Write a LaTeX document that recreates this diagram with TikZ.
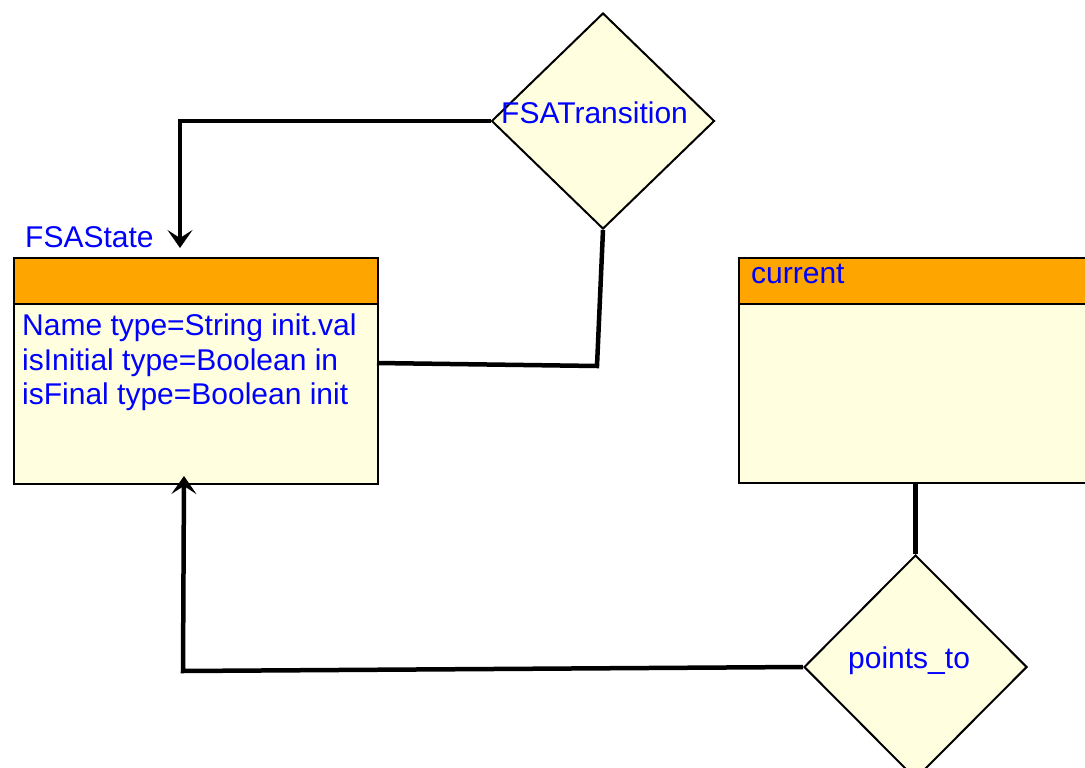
\documentclass[tikz,border=0pt]{standalone}
\usepackage{fontspec}
\setmainfont{Liberation Sans}
\usetikzlibrary{shapes.geometric,arrows.meta}
\definecolor{entfill}{HTML}{FFFFE0}
\definecolor{hdrfill}{HTML}{FFA500}
\begin{document}
\begin{tikzpicture}[x=1pt,y=-1pt,
  lbl/.style={inner sep=0pt, anchor=base west, text=blue, font=\fontsize{30}{34}\selectfont},
  ebox/.style={draw, line width=2pt, fill=entfill, anchor=north west, inner sep=0pt},
  ehdr/.style={draw, line width=2pt, fill=hdrfill, anchor=north west, inner sep=0pt},
  rel/.style={diamond, draw, line width=2pt, fill=entfill, inner sep=0pt,
              minimum width=223pt, minimum height=216pt},
  link/.style={line width=4.5pt, line join=miter},
  tip/.style={-{Stealth[length=18pt,width=25pt,inset=8pt]}}]
\useasboundingbox (0,0) rectangle (1085,768);
\clip (0,0) rectangle (1085,768);

% entity FSAState
\node[ebox, minimum width=364pt, minimum height=226pt] (st) at (13,257) {};
\node[ehdr, minimum width=364pt, minimum height=46pt] (sth) at (13,257) {};
\node[lbl] (stname) at (25,247) {FSAState};
\node[lbl] (attr1) at (22,335) {Name type=String init.val};
\node[lbl] (attr2) at (22,370) {isInitial type=Boolean in};
\node[lbl] (attr3) at (22,404) {isFinal type=Boolean init};

% entity current
\node[ebox, minimum width=400pt, minimum height=225pt] (cur) at (738,257) {};
\node[ehdr, minimum width=400pt, minimum height=46pt] (curh) at (738,257) {};
\node[lbl] (curname) at (751,283) {current};

% relationships
\node[rel] (ft) at (603,121) {};
\node[lbl] (ftname) at (501,123) {FSATransition};
\node[rel, minimum height=224pt] (pt) at (915.5,667) {};
\node[lbl] (ptname) at (848,668) {points\_to};

% connectors
\coordinate (in1) at (180,248);
\draw[link, tip] (ft.west) -| (in1);

\coordinate (j2) at (597,366);
\coordinate (e2) at (377,363);
\draw[link] (ft.south) -- (j2) -- (e2);

\draw[link] (pt.north |- cur.south) -- (pt.north);

\coordinate (j4) at (183,671);
\coordinate (in4) at (184,476);
\draw[link, tip] (pt.west) -- (j4) -- (in4);
\end{tikzpicture}
\end{document}
